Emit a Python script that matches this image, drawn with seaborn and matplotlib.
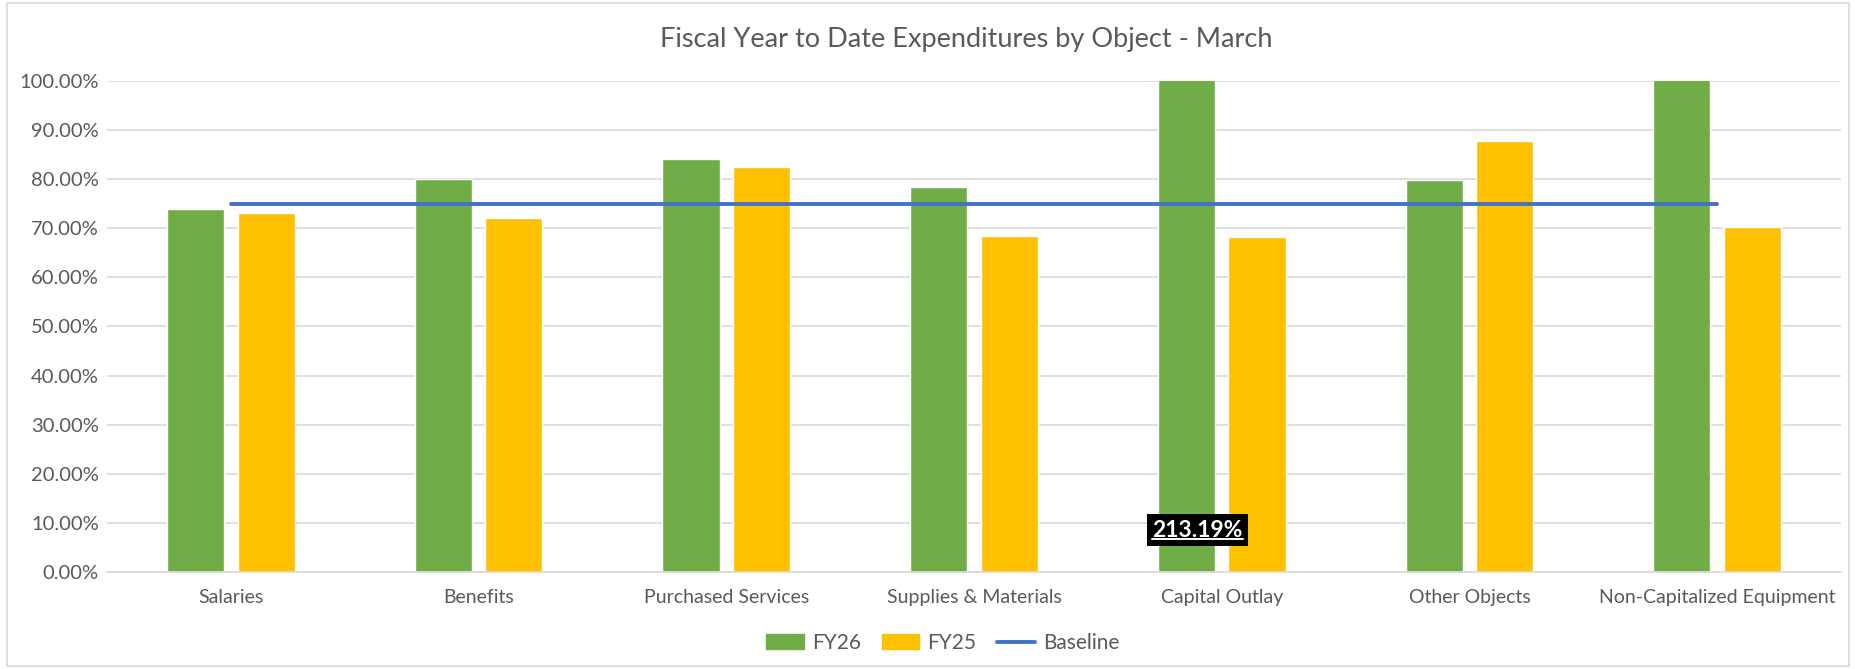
import numpy as np
import pandas as pd
import seaborn as sns
import matplotlib.pyplot as plt
from matplotlib.lines import Line2D
from matplotlib.patches import Patch, Rectangle
from matplotlib.ticker import PercentFormatter, MultipleLocator

# Data
categories = ["Salaries", "Benefits", "Purchased Services", "Supplies & Materials",
              "Capital Outlay", "Other Objects", "Non-Capitalized Equipment"]
fy26 = [0.739, 0.800, 0.842, 0.784, 2.1319, 0.799, 1.05]
fy25 = [0.731, 0.721, 0.825, 0.685, 0.683, 0.878, 0.702]
baseline = [0.75, 0.75, 0.75, 0.75, 0.75, 0.75, 0.75]
series = ["FY26", "FY25"]
colors = {"FY26": "#70AD47", "FY25": "#FFC000"}
line_color = "#4472C4"
text_color = "#595959"
grid_color = "#D9D9D9"

df = pd.DataFrame({
    "Object": categories * 2,
    "Year": [series[0]] * len(categories) + [series[1]] * len(categories),
    "Pct": fy26 + fy25,
})

sns.set_theme(style="white")
plt.rcParams['font.family'] = ['Lato', 'DejaVu Sans']

fig, ax = plt.subplots(figsize=(18.56, 6.69), dpi=100)
fig.subplots_adjust(left=107 / 1856, right=1841 / 1856, top=1 - 81 / 669, bottom=1 - 572 / 669)

sns.barplot(data=df, x="Object", y="Pct", hue="Year", hue_order=series, palette=colors,
            width=0.57, gap=0.19, saturation=1, legend=False, ax=ax)

# baseline series across category centres
sns.lineplot(x=np.arange(len(categories)), y=baseline, color=line_color, lw=2.8,
             solid_capstyle="round", ax=ax, zorder=3)

ax.set_xlim(-0.5, len(categories) - 0.5)
ax.set_ylim(0, 1.0)
ax.yaxis.set_major_locator(MultipleLocator(0.1))
ax.yaxis.set_major_formatter(PercentFormatter(1.0, decimals=2))
ax.grid(axis="y", color=grid_color, lw=1.2)
ax.set_axisbelow(True)
for s in ["top", "right", "left"]:
    ax.spines[s].set_visible(False)
ax.spines["bottom"].set_color(grid_color)
ax.spines["bottom"].set_linewidth(1.2)
ax.tick_params(axis="both", length=0, labelsize=14, colors=text_color)
ax.tick_params(axis="y", labelsize=14.5, pad=6)
ax.tick_params(axis="x", pad=12)
ax.set_xlabel("")
ax.set_ylabel("")

fig.text(966 / 1856, 1 - 39 / 669, "Fiscal Year to Date Expenditures by Object - March",
         ha="center", va="center", fontsize=19.5, color=text_color)

# data label for the clipped Capital Outlay bar
bar = ax.patches[categories.index("Capital Outlay")]
bx = bar.get_x() + bar.get_width() / 2
lbl = ax.text(bx + 0.045, 0.085, f"{fy26[4] * 100:.2f}%", ha="center", va="center",
              fontsize=16.5, fontweight="bold", color="white", zorder=5,
              bbox=dict(facecolor="black", edgecolor="none", boxstyle="square,pad=0.25"))
fig.canvas.draw()
bb = lbl.get_window_extent().transformed(ax.transData.inverted())
ax.add_line(Line2D([bb.x0, bb.x1], [bb.y0 + 0.004, bb.y0 + 0.004], color="white", lw=1.4, zorder=6))

handles = [Patch(color=colors["FY26"]), Patch(color=colors["FY25"]),
           Line2D([0], [0], color=line_color, lw=2.8, solid_capstyle="round")]
leg = fig.legend(handles, ["FY26", "FY25", "Baseline"], loc="center",
                 bbox_to_anchor=(0.508, 1 - 643 / 669), ncol=3, frameon=False, fontsize=15,
                 handlelength=1.8, handleheight=0.7, columnspacing=1.0, handletextpad=0.4)
for t in leg.get_texts():
    t.set_color(text_color)

fig.patches.append(Rectangle((0.004, 0.004), 0.992, 0.992, transform=fig.transFigure,
                             fill=False, edgecolor=grid_color, lw=1.2))

fig.savefig("out.png", dpi=100)
